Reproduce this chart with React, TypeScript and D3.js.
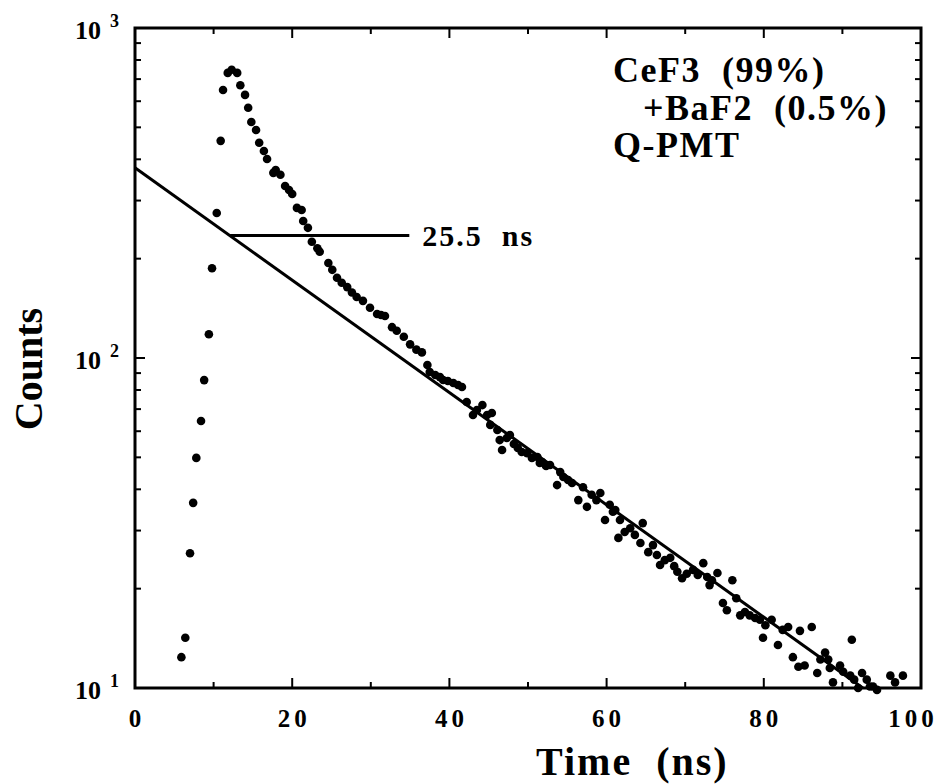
import React, { useRef, useEffect } from 'react';
import * as d3 from 'd3';

// decay curve (time in ns, counts)
const times = [
  5.9, 6.4, 7.0, 7.4, 7.8, 8.4, 8.8, 9.4, 9.8, 10.4, 10.9, 11.2, 11.8, 12.3, 13.0, 13.4, 14.0, 14.4, 14.8, 15.4,
  15.8, 16.4, 16.8, 17.6, 17.9, 18.5, 19.1, 19.6, 20.0, 20.6, 21.2, 21.4, 22.0, 22.5, 23.2, 23.5, 24.6, 25.1, 25.7, 26.3,
  27.0, 27.6, 28.2, 29.0, 29.9, 30.8, 31.3, 31.8, 32.7, 33.3, 34.2, 35.0, 35.8, 36.5, 37.2, 37.5, 38.2, 38.8, 39.2, 39.8,
  40.5, 41.1, 41.6, 42.2, 43.0, 43.5, 44.2, 44.8, 45.2, 45.4, 46.1, 46.4, 46.7, 47.3, 47.7, 48.2, 48.7, 49.2, 49.9, 50.5,
  51.2, 51.5, 51.8, 52.3, 52.8, 53.7, 54.1, 54.5, 55.1, 55.6, 56.4, 57.0, 57.5, 58.1, 58.7, 59.2, 59.8, 60.4, 60.8, 61.1,
  61.5, 61.7, 62.3, 63.0, 63.6, 64.3, 64.6, 65.3, 65.9, 66.4, 66.8, 67.4, 68.1, 68.6, 69.0, 69.6, 70.2, 71.0, 71.6, 72.3,
  72.8, 73.1, 73.4, 74.1, 74.8, 75.3, 76.0, 76.5, 77.0, 77.6, 78.2, 78.9, 79.5, 79.9, 80.2, 81.0, 81.8, 82.4, 83.1, 83.7,
  84.4, 84.6, 85.2, 86.1, 86.8, 87.2, 87.8, 88.2, 88.4, 88.8, 89.7, 90.1, 91.0, 91.2, 91.5, 92.0, 92.5, 93.1, 93.5, 93.9,
  94.4, 96.1, 96.7, 97.7
];
const counts = [
  12.4, 14.2, 25.6, 36.4, 49.8, 64.4, 85.7, 118, 187, 275, 455, 649, 731, 747, 731, 671, 627, 573, 519, 491,
  449, 424, 401, 364, 371, 359, 332, 323, 314, 285, 281, 260, 248, 225, 215, 210, 194, 185, 175, 169,
  164, 158, 153, 149, 142, 136, 135, 134, 124, 121, 116, 110, 106, 104, 95.2, 90.7, 88.8, 87.5, 85.8, 85.2,
  84.0, 82.8, 81.7, 73.6, 67.2, 69.6, 72.0, 67.2, 62.7, 68.1, 60.5, 56.4, 52.6, 57.2, 58.4, 54.9, 53.4, 51.9, 51.5, 49.8,
  50.1, 48.1, 48.4, 47.1, 47.4, 41.2, 45.1, 43.6, 42.7, 41.8, 37.1, 40.6, 35.4, 38.5, 37.1, 39.0, 32.3, 35.9, 34.2, 34.6,
  28.5, 32.3, 29.7, 30.5, 29.1, 27.5, 31.6, 25.8, 27.1, 25.3, 23.6, 24.4, 24.8, 23.4, 22.5, 21.5, 22.2, 22.8, 22.0, 23.9,
  21.7, 20.5, 21.2, 22.3, 18.1, 17.2, 21.2, 18.7, 16.6, 17.0, 16.6, 16.3, 16.1, 14.2, 15.5, 16.1, 13.5, 15.0, 15.3, 12.4,
  11.6, 14.9, 11.7, 15.3, 11.1, 12.2, 12.8, 12.2, 11.5, 10.4, 11.7, 11.2, 10.9, 14.0, 10.6, 10.0, 11.1, 10.6, 10.1, 10.1,
  9.87, 10.9, 10.4, 10.9
];

// fitted exponential (straight on the log axis) and its label
const fitTimes = [0, 92.6];
const fitCounts = [377, 10];
const markTimes = [12.1, 34.9];
const markCounts = [235, 235];
const markLabel = '25.5\u00A0 ns';

const xTicks = [0, 20, 40, 60, 80, 100];
const yDecades = [1, 2, 3];
const legendLines = ['CeF3\u00A0 (99%)', '+BaF2\u00A0 (0.5%)', 'Q-PMT'];

const App = () => {
  const svgRef = useRef(null);

  useEffect(() => {
    const svg = d3.select(svgRef.current);
    svg.selectAll('*').remove();

    const left = 135, right = 921, top = 28, bottom = 688;
    const font = '"Liberation Serif", "Times New Roman", serif';

    const x = d3.scaleLinear().domain([0, 100]).range([left, right]);
    const y = d3.scaleLog().domain([10, 1000]).range([bottom, top]);

    // ticks, inward on all four sides
    const tk = svg.append('g').attr('stroke', '#000').attr('stroke-width', 2);
    d3.range(10, 100, 10).forEach(v => {
      const len = v % 20 === 0 ? 10 : 6;
      tk.append('line').attr('x1', x(v)).attr('x2', x(v)).attr('y1', bottom).attr('y2', bottom - len);
      tk.append('line').attr('x1', x(v)).attr('x2', x(v)).attr('y1', top).attr('y2', top + len);
    });
    [10, 100].forEach(dec => {
      d3.range(1, 10).forEach(m => {
        const v = dec * m;
        if (v <= 10) return;
        const len = m === 1 ? 10 : 6;
        tk.append('line').attr('x1', left).attr('x2', left + len).attr('y1', y(v)).attr('y2', y(v));
        tk.append('line').attr('x1', right).attr('x2', right - len).attr('y1', y(v)).attr('y2', y(v));
      });
    });

    // frame
    svg.append('rect')
      .attr('x', left).attr('y', top)
      .attr('width', right - left).attr('height', bottom - top)
      .attr('fill', 'none').attr('stroke', '#000').attr('stroke-width', 3);

    // x tick labels
    svg.append('g').selectAll('text').data(xTicks).join('text')
      .attr('x', d => Math.min(x(d) + 2, 913))
      .attr('y', 727)
      .attr('text-anchor', 'middle')
      .attr('font-family', font).attr('font-weight', 'bold').attr('font-size', 25)
      .attr('letter-spacing', 4)
      .text(d => d);

    // y tick labels 10^n
    const yl = svg.append('g').attr('font-family', font).attr('font-weight', 'bold');
    yDecades.forEach(p => {
      const yy = y(Math.pow(10, p));
      yl.append('text').attr('x', 101).attr('y', yy + 11).attr('text-anchor', 'end')
        .attr('font-size', 26).text('10');
      yl.append('text').attr('x', 110).attr('y', yy - 1)
        .attr('font-size', 18).text(p);
    });

    // fit line
    const line = d3.line().x(d => x(d[0])).y(d => y(d[1]));
    svg.append('path')
      .datum(fitTimes.map((t, i) => [t, fitCounts[i]]))
      .attr('fill', 'none').attr('stroke', '#000').attr('stroke-width', 3)
      .attr('d', line);

    // label marker line
    svg.append('path')
      .datum(markTimes.map((t, i) => [t, markCounts[i]]))
      .attr('fill', 'none').attr('stroke', '#000').attr('stroke-width', 3)
      .attr('d', line);
    svg.append('text')
      .attr('x', x(markTimes[1]) + 13).attr('y', y(markCounts[1]) + 10)
      .attr('font-family', font).attr('font-weight', 'bold').attr('font-size', 30)
      .attr('letter-spacing', 2)
      .text(markLabel);

    // data points
    svg.append('g').selectAll('circle').data(times).join('circle')
      .attr('cx', d => x(d))
      .attr('cy', (d, i) => y(counts[i]))
      .attr('r', 4.3)
      .attr('fill', '#000');

    // legend text
    const lg = svg.append('g').attr('font-family', font).attr('font-weight', 'bold')
      .attr('font-size', 36).attr('letter-spacing', 1.5);
    lg.append('text').attr('x', 613).attr('y', 82).text(legendLines[0]);
    lg.append('text').attr('x', 643).attr('y', 120).text(legendLines[1]);
    lg.append('text').attr('x', 613).attr('y', 157).text(legendLines[2]);

    // axis titles
    svg.append('text')
      .attr('x', 536).attr('y', 775)
      .attr('font-family', font).attr('font-weight', 'bold').attr('font-size', 40)
      .attr('letter-spacing', 2)
      .text('Time\u00A0 (ns)');
    svg.append('text')
      .attr('transform', 'translate(42,369) rotate(-90)')
      .attr('text-anchor', 'middle')
      .attr('font-family', font).attr('font-weight', 'bold').attr('font-size', 40)
      .text('Counts');
  }, []);

  return (
    <svg ref={svgRef} width="946" height="784"
      style={{ position: 'absolute', left: 0, top: 0, background: '#fff' }} />
  );
};

export default App;
